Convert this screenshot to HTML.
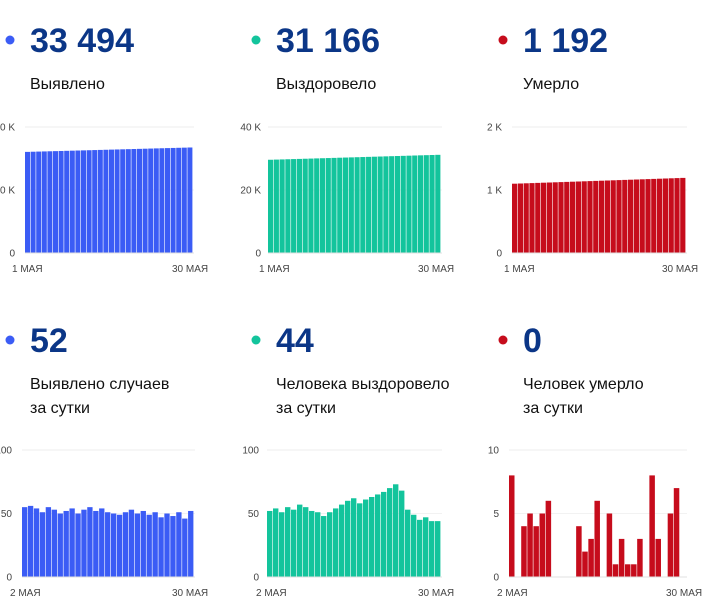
<!DOCTYPE html>
<html><head><meta charset="utf-8">
<style>
html,body{margin:0;padding:0;background:#fff;width:715px;height:607px;overflow:hidden}
svg{display:block;font-family:"Liberation Sans",Arial,sans-serif}
.num{font-size:34px;font-weight:bold;fill:#0b3687}
.lab{font-size:16px;fill:#111}
.tk{font-size:10px;fill:#444}
</style></head><body>
<svg id="s" width="715" height="607" viewBox="0 0 715 607">
<circle cx="10" cy="40" r="4.5" fill="#3b5cf5"/>
<text class="num" x="30" y="52">33 494</text>
<text class="lab" x="30" y="89">Выявлено</text>
<circle cx="256" cy="40" r="4.5" fill="#13c49c"/>
<text class="num" x="276" y="52">31 166</text>
<text class="lab" x="276" y="89">Выздоровело</text>
<circle cx="503" cy="40" r="4.5" fill="#c60c1c"/>
<text class="num" x="523" y="52">1 192</text>
<text class="lab" x="523" y="89">Умерло</text>

<circle cx="10" cy="340" r="4.5" fill="#3b5cf5"/>
<text class="num" x="30" y="352">52</text>
<text class="lab" x="30" y="389">Выявлено случаев</text>
<text class="lab" x="30" y="413">за сутки</text>
<circle cx="256" cy="340" r="4.5" fill="#13c49c"/>
<text class="num" x="276" y="352">44</text>
<text class="lab" x="276" y="389">Человека выздоровело</text>
<text class="lab" x="276" y="413">за сутки</text>
<circle cx="503" cy="340" r="4.5" fill="#c60c1c"/>
<text class="num" x="523" y="352">0</text>
<text class="lab" x="523" y="389">Человек умерло</text>
<text class="lab" x="523" y="413">за сутки</text>
<g id="g"></g>
</svg>
<script>
var g=document.getElementById('g'),h='';
function chart(x0,x1,top,base,max,vals,col,ylabs,ylx,xl1,xl1x,xl2x){
  h+='<line x1="'+x0+'" x2="'+(x1+1)+'" y1="'+top+'" y2="'+top+'" stroke="#ececec"/>';
  h+='<line x1="'+x0+'" x2="'+(x1+1)+'" y1="'+((top+base)/2)+'" y2="'+((top+base)/2)+'" stroke="#f2f2f2"/>';
  var n=vals.length,w=(x1-x0)/n;
  for(var i=0;i<n;i++){var v=vals[i];if(!v)continue;var hh=(base-top)*v/max;
    h+='<rect x="'+(x0+i*w).toFixed(2)+'" y="'+(base-hh).toFixed(2)+'" width="'+(w-0.6).toFixed(2)+'" height="'+hh.toFixed(2)+'" fill="'+col+'"/>';}
  h+='<line x1="'+x0+'" x2="'+(x1+1)+'" y1="'+base+'" y2="'+base+'" stroke="#e0e0e0"/>';
  for(var j=0;j<3;j++){var yy=[top,(top+base)/2,base][j];
    h+='<text class="tk" text-anchor="end" x="'+ylx+'" y="'+(yy+3.5)+'">'+ylabs[j]+'</text>';}
  h+='<text class="tk" x="'+xl1x+'" y="'+(base+19)+'">'+xl1+'</text>';
  h+='<text class="tk" x="'+xl2x+'" y="'+(base+19)+'">30 МАЯ</text>';
}
function lin(a,b,n){var r=[];for(var i=0;i<n;i++)r.push(a+(b-a)*i/(n-1));return r;}
chart(25,193,127,253,40,lin(32.1,33.494,30),'#3b5cf5',['40 K','20 K','0'],15,'1 МАЯ',12,172);
chart(268,441,127,253,40,lin(29.6,31.166,30),'#13c49c',['40 K','20 K','0'],261,'1 МАЯ',259,418);
chart(512,686,127,253,2,lin(1.1,1.192,30),'#c60c1c',['2 K','1 K','0'],502,'1 МАЯ',504,662);
chart(22,194,450,577,100,[55,56,54,51,55,53,50,52,54,50,53,55,52,54,51,50,49,51,53,50,52,49,51,47,50,48,51,46,52],'#3b5cf5',['100','50','0'],12,'2 МАЯ',10,172);
chart(267,441,450,577,100,[52,54,51,55,53,57,55,52,51,48,51,54,57,60,62,58,61,63,65,67,70,73,68,53,49,45,47,44,44],'#13c49c',['100','50','0'],259,'2 МАЯ',256,418);
chart(509,686,450,577,10,[8,0,4,5,4,5,6,0,0,0,0,4,2,3,6,0,5,1,3,1,1,3,0,8,3,0,5,7,0],'#c60c1c',['10','5','0'],499,'2 МАЯ',497,666);
g.innerHTML=h;
</script>
</body></html>
